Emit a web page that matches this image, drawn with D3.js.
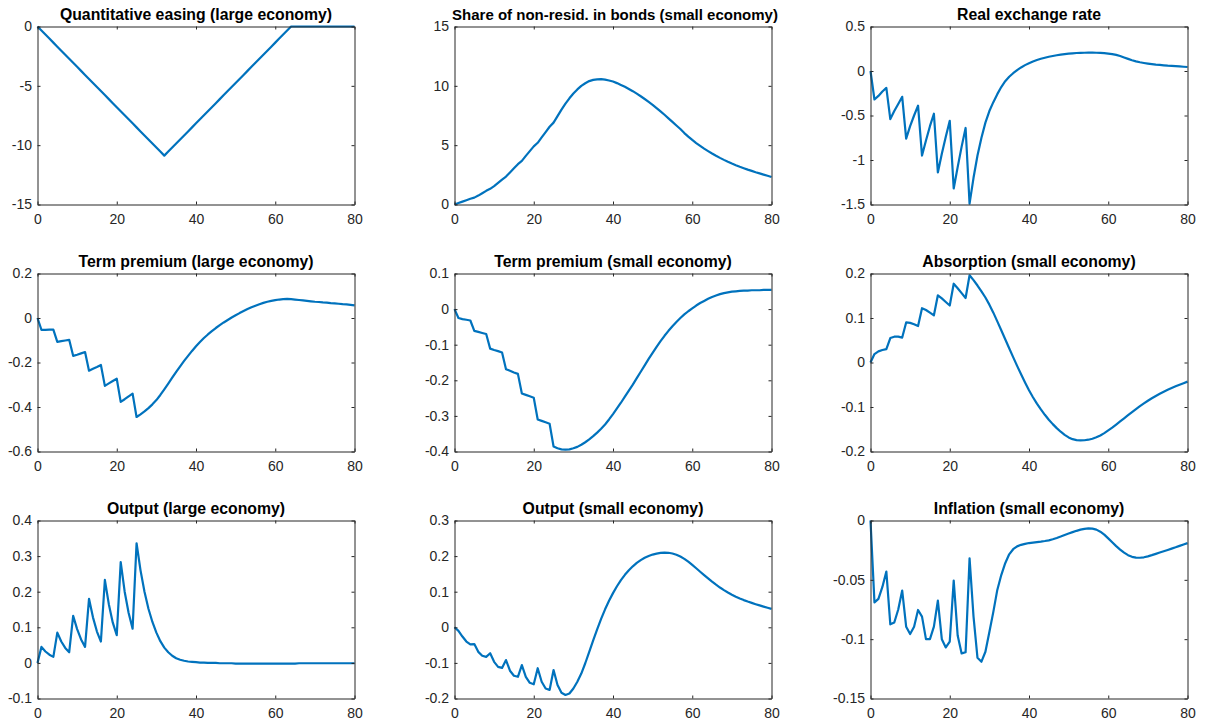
<!DOCTYPE html>
<html>
<head>
<meta charset="utf-8">
<script src="https://cdn.jsdelivr.net/npm/d3@7"></script>
<style>
  html, body { margin: 0; padding: 0; background: #fff; }
  svg { display: block; }
</style>
</head>
<body>
<svg id="chart" width="1206" height="725"></svg>
<script>
// ---------- DATA ----------
const periods = d3.range(0, 81);
const xTicks = [0, 20, 40, 60, 80];

const titles = [
  "Quantitative easing (large economy)",
  "Share of non-resid. in bonds (small economy)",
  "Real exchange rate",
  "Term premium (large economy)",
  "Term premium (small economy)",
  "Absorption (small economy)",
  "Output (large economy)",
  "Output (small economy)",
  "Inflation (small economy)"
];

const qeLarge = [0,-0.34,-0.68,-1.02,-1.36,-1.7,-2.04,-2.38,-2.72,-3.06,-3.4,-3.74,-4.08,-4.42,-4.76,-5.1,-5.44,-5.78,-6.12,-6.46,-6.8,-7.14,-7.48,-7.82,-8.16,-8.5,-8.84,-9.18,-9.52,-9.86,-10.2,-10.54,-10.88,
  -10.54,-10.2,-9.86,-9.52,-9.18,-8.84,-8.5,-8.16,-7.82,-7.48,-7.14,-6.8,-6.46,-6.12,-5.78,-5.44,-5.1,-4.76,-4.42,-4.08,-3.74,-3.4,-3.06,-2.72,-2.38,-2.04,-1.7,-1.36,-1.02,-0.68,-0.34,0,
  0,0,0,0,0,0,0,0,0,0,0,0,0,0,0,0];
const shareNonResid = [0,0.12,0.24,0.36,0.48,0.58,0.75,0.95,1.15,1.32,1.55,1.82,2.1,2.35,2.7,3.05,3.4,3.68,4.1,4.5,4.9,5.2,5.65,6.1,6.55,6.9,7.45,8.0,8.5,8.95,9.35,9.7,10.0,10.22,10.4,10.5,10.55,10.56,10.52,10.45,
  10.36,10.23,10.08,9.92,9.74,9.55,9.34,9.12,8.89,8.65,8.4,8.13,7.85,7.56,7.26,6.96,6.66,6.36,6.02,5.72,5.44,5.18,4.94,4.71,4.5,4.3,4.11,3.93,3.76,3.6,3.45,3.31,3.18,3.06,2.94,2.83,2.72,2.62,2.52,2.42,2.32];
const realExchRate = [0,-0.32,-0.28,-0.23,-0.19,-0.54,-0.45,-0.37,-0.29,-0.76,-0.62,-0.5,-0.39,-0.95,-0.78,-0.62,-0.48,-1.14,-0.93,-0.74,-0.56,-1.32,-1.08,-0.85,-0.64,-1.49,
  -1.2,-0.95,-0.75,-0.58,-0.45,-0.35,-0.26,-0.18,-0.115,-0.065,-0.025,0.01,0.04,0.066,0.088,0.107,0.123,0.137,0.149,0.16,0.169,0.177,0.184,0.19,0.195,0.199,0.202,0.204,0.205,0.206,0.206,0.205,0.203,0.2,0.196,
  0.19,0.181,0.168,0.152,0.136,0.121,0.108,0.098,0.09,0.083,0.077,0.072,0.068,0.064,0.06,0.057,0.054,0.051,0.048,0.045];
const termPremLarge = [0,-0.053,-0.053,-0.052,-0.052,-0.107,-0.104,-0.101,-0.098,-0.17,-0.165,-0.159,-0.153,-0.237,-0.228,-0.22,-0.211,-0.305,-0.294,-0.283,-0.273,-0.377,-0.365,-0.352,-0.34,-0.445,
  -0.433,-0.42,-0.405,-0.388,-0.369,-0.346,-0.321,-0.295,-0.268,-0.242,-0.217,-0.193,-0.17,-0.148,-0.127,-0.108,-0.09,-0.074,-0.059,-0.045,-0.032,-0.02,-0.009,0.002,0.012,0.022,0.031,0.04,0.048,0.055,
  0.062,0.068,0.073,0.077,0.08,0.083,0.085,0.086,0.085,0.083,0.081,0.079,0.077,0.075,0.073,0.072,0.07,0.069,0.067,0.066,0.064,0.062,0.061,0.059,0.057];
const termPremSmall = [0,-0.025,-0.028,-0.03,-0.032,-0.061,-0.064,-0.067,-0.07,-0.111,-0.115,-0.118,-0.122,-0.169,-0.173,-0.178,-0.182,-0.237,-0.241,-0.245,-0.249,-0.31,-0.314,-0.318,-0.322,-0.386,
  -0.391,-0.394,-0.395,-0.394,-0.391,-0.387,-0.381,-0.374,-0.366,-0.357,-0.347,-0.336,-0.324,-0.31,-0.295,-0.279,-0.263,-0.246,-0.229,-0.212,-0.194,-0.176,-0.158,-0.14,-0.123,-0.106,-0.09,-0.075,-0.061,-0.048,
  -0.036,-0.025,-0.015,-0.006,0.002,0.01,0.017,0.023,0.029,0.034,0.038,0.042,0.045,0.047,0.049,0.05,0.051,0.052,0.052,0.053,0.053,0.053,0.054,0.054,0.054];
const absorptionSmall = [0,0.019,0.025,0.028,0.03,0.055,0.058,0.058,0.056,0.09,0.089,0.086,0.082,0.122,0.118,0.112,0.106,0.151,0.144,0.136,0.128,0.177,0.167,0.156,0.145,0.196,
  0.185,0.173,0.16,0.146,0.13,0.112,0.0925,0.0725,0.0522,0.032,0.012,-0.0075,-0.0265,-0.0448,-0.0625,-0.078,-0.0925,-0.1055,-0.1175,-0.1285,-0.1385,-0.1475,-0.1555,-0.1625,-0.1683,-0.1723,-0.1743,-0.175,
  -0.1747,-0.1735,-0.1713,-0.1681,-0.1639,-0.1587,-0.1527,-0.1465,-0.1395,-0.1325,-0.1255,-0.1185,-0.1115,-0.1047,-0.0982,-0.092,-0.086,-0.0804,-0.0752,-0.0703,-0.0657,-0.0614,-0.0574,-0.0536,-0.05,-0.0465,-0.043];
const outputLarge = [0,0.045,0.032,0.023,0.017,0.085,0.06,0.042,0.03,0.132,0.095,0.066,0.045,0.18,0.128,0.088,0.06,0.233,0.165,0.113,0.078,0.283,0.2,0.14,0.096,0.336,
  0.26,0.2,0.152,0.115,0.085,0.061,0.043,0.03,0.02,0.013,0.009,0.006,0.004,0.003,0.002,0.001,0.001,0,0,0,-0.001,-0.001,-0.001,-0.001,-0.002,-0.002,-0.002,-0.002,-0.002,-0.002,
  -0.002,-0.002,-0.002,-0.002,-0.002,-0.002,-0.002,-0.002,-0.002,-0.002,-0.001,-0.001,-0.001,-0.001,-0.001,-0.001,-0.001,-0.001,-0.001,-0.001,-0.001,-0.001,-0.001,-0.001,-0.001];
const outputSmall = [0,-0.01,-0.026,-0.04,-0.048,-0.047,-0.069,-0.08,-0.083,-0.073,-0.097,-0.111,-0.114,-0.092,-0.122,-0.136,-0.139,-0.106,-0.139,-0.156,-0.16,-0.115,-0.153,-0.172,-0.176,-0.12,
  -0.162,-0.184,-0.19,-0.186,-0.172,-0.153,-0.13,-0.101,-0.069,-0.037,-0.006,0.0235,0.0505,0.0745,0.096,0.1153,0.1325,0.1475,0.1603,0.1713,0.1808,0.1888,0.1953,0.2003,0.2043,0.2071,0.209,0.21,
  0.2093,0.2073,0.2038,0.1988,0.1923,0.1843,0.1753,0.1658,0.1561,0.1465,0.1372,0.1282,0.1197,0.1117,0.1044,0.0977,0.0915,0.0859,0.0809,0.0764,0.0723,0.0685,0.0649,0.0615,0.0582,0.055,0.0519];
const inflationSmall = [0,-0.069,-0.066,-0.056,-0.043,-0.0875,-0.086,-0.075,-0.059,-0.0895,-0.0957,-0.0895,-0.0754,-0.081,-0.1,-0.1,-0.0895,-0.0675,-0.1,-0.107,-0.102,-0.0507,-0.097,-0.112,-0.111,-0.0318,
  -0.081,-0.1157,-0.119,-0.1106,-0.094,-0.077,-0.0585,-0.046,-0.036,-0.0285,-0.0242,-0.0218,-0.0205,-0.0197,-0.019,-0.0186,-0.0182,-0.0178,-0.0173,-0.0167,-0.0158,-0.0147,-0.0135,-0.0122,-0.011,
  -0.0098,-0.0087,-0.0077,-0.007,-0.0066,-0.0068,-0.0077,-0.0094,-0.0119,-0.0151,-0.0184,-0.0216,-0.0245,-0.0271,-0.0292,-0.0306,-0.0313,-0.0314,-0.031,-0.0302,-0.0292,-0.0281,-0.027,-0.0259,-0.0248,
  -0.0237,-0.0226,-0.0214,-0.0202,-0.0191];

const yTicks1 = [-15, -10, -5, 0];
const yTicks2 = [0, 5, 10, 15];
const yTicks3 = [-1.5, -1, -0.5, 0, 0.5];
const yTicks4 = [-0.6, -0.4, -0.2, 0, 0.2];
const yTicks5 = [-0.4, -0.3, -0.2, -0.1, 0, 0.1];
const yTicks6 = [-0.2, -0.1, 0, 0.1, 0.2];
const yTicks7 = [-0.1, 0, 0.1, 0.2, 0.3, 0.4];
const yTicks8 = [-0.2, -0.1, 0, 0.1, 0.2, 0.3];
const yTicks9 = [-0.15, -0.1, -0.05, 0];

const seriesList = [qeLarge, shareNonResid, realExchRate, termPremLarge, termPremSmall, absorptionSmall, outputLarge, outputSmall, inflationSmall];
const tickList = [yTicks1, yTicks2, yTicks3, yTicks4, yTicks5, yTicks6, yTicks7, yTicks8, yTicks9];

// ---------- LAYOUT ----------
const colLeft = [37.5, 454.5, 870.5];
const plotW = 317;
const rowTop = [26.5, 273.5, 520.5];
const plotH = 178;
const axisColor = "#262626";
const lineColor = "#0072BD";
const fontFam = "'Liberation Sans', Arial, Helvetica, sans-serif";
const tickLen = 3;

const svg = d3.select("#chart");

const fmt = v => String(+v.toFixed(4));

seriesList.forEach((vals, i) => {
  const r = Math.floor(i / 3), c = i % 3;
  const x0 = colLeft[c], y0 = rowTop[r];
  const ticks = tickList[i];
  const yDom = d3.extent(ticks);

  const x = d3.scaleLinear().domain([0, 80]).range([0, plotW]);
  const y = d3.scaleLinear().domain(yDom).range([plotH, 0]);

  const g = svg.append("g").attr("transform", `translate(${x0},${y0})`);

  const line = d3.line().x((d, k) => x(periods[k])).y(d => y(d));
  g.append("path")
    .datum(vals)
    .attr("fill", "none")
    .attr("stroke", lineColor)
    .attr("stroke-width", 2.2)
    .attr("stroke-linejoin", "round")
    .attr("d", line);

  const xAxisB = d3.axisBottom(x).tickValues(xTicks).tickSizeInner(-tickLen).tickSizeOuter(0).tickPadding(10).tickFormat(fmt);
  const xAxisT = d3.axisTop(x).tickValues(xTicks).tickSizeInner(-tickLen).tickSizeOuter(0).tickFormat("");
  const yAxisL = d3.axisLeft(y).tickValues(ticks).tickSizeInner(-tickLen).tickSizeOuter(0).tickPadding(5.5).tickFormat(fmt);
  const yAxisR = d3.axisRight(y).tickValues(ticks).tickSizeInner(-tickLen).tickSizeOuter(0).tickFormat("");

  const axes = [
    g.append("g").attr("transform", `translate(0,${plotH})`).call(xAxisB),
    g.append("g").call(xAxisT),
    g.append("g").call(yAxisL),
    g.append("g").attr("transform", `translate(${plotW},0)`).call(yAxisR)
  ];
  axes.forEach(a => {
    a.selectAll("path.domain").attr("stroke", axisColor).attr("stroke-width", 1);
    a.selectAll(".tick line").attr("stroke", axisColor).attr("stroke-width", 1);
    a.selectAll(".tick text")
      .attr("fill", axisColor)
      .style("font-family", fontFam)
      .style("font-size", "14px");
  });

  // long title is shrunk slightly so it clears the neighbouring tick label
  const titleSize = titles[i].length > 40 ? "15px" : "15.8px";
  g.append("text")
    .attr("x", plotW / 2 + (titles[i].length > 40 ? 2 : 0))
    .attr("y", -7)
    .attr("text-anchor", "middle")
    .attr("fill", "#000")
    .style("font-family", fontFam)
    .style("font-weight", "bold")
    .style("font-size", titleSize)
    .text(titles[i]);
});
</script>
</body>
</html>
